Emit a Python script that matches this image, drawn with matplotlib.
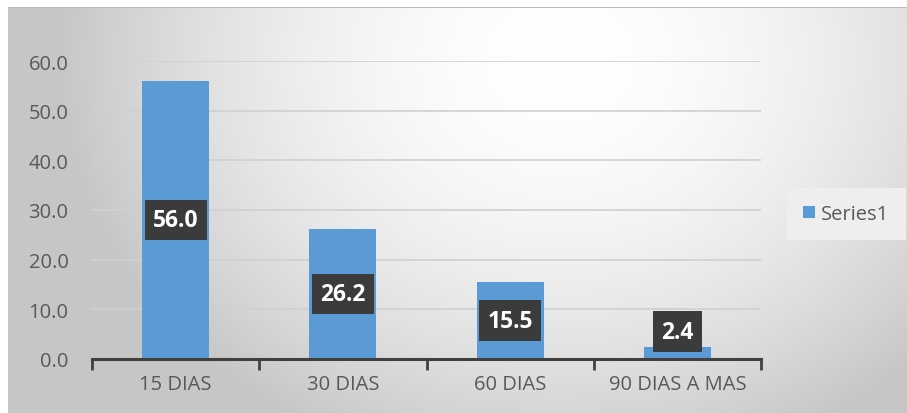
import numpy as np
import matplotlib.pyplot as plt

# datos
categorias = ['15 DIAS', '30 DIAS', '60 DIAS', '90 DIAS A MAS']
valores = [56.0, 26.2, 15.5, 2.4]
serie = 'Series1'
y_ticks = [0, 10, 20, 30, 40, 50, 60]

plt.rcParams['font.family'] = ['Open Sans', 'DejaVu Sans']

fig = plt.figure(figsize=(9.07, 4.14), dpi=100)

# fondo con degradado radial
bg = fig.add_axes([0, 0, 1, 1], zorder=-10)
W, H = 907, 414
xx, yy = np.meshgrid(np.arange(W), np.arange(H))
r = np.sqrt(((xx - 560) / 500.0) ** 2 + ((yy - 60) / 420.0) ** 2)
r = np.clip(r, 0, 1)
g = 1.0 - 0.22 * r ** 1.8
img = np.dstack([g, g, g])
img[:8, :, :] = 1.0
img[:, :8, :] = 1.0
img[8, 8:, :] = 0.74
bg.imshow(img, extent=[0, W, H, 0], aspect='auto', interpolation='bilinear')
bg.set_xlim(0, W)
bg.set_ylim(H, 0)
bg.axis('off')

ax = fig.add_axes([92 / W, 54 / H, (761 - 92) / W, 298 / H])
ax.patch.set_alpha(0)
x = np.arange(len(categorias))
bars = ax.bar(x, valores, width=0.4, color='#5b9bd5', zorder=3, label=serie)

ax.set_xlim(-0.5, len(categorias) - 0.5)
ax.set_ylim(0, 60)
ax.set_yticks(y_ticks)
ax.set_yticklabels([f'{v:.1f}' for v in y_ticks], fontsize=14.5, color='#595959')
ax.yaxis.grid(True, color='#d0d0d0', lw=1.2, zorder=0)
ax.tick_params(axis='y', length=0, pad=17)

ax.set_xticks(x)
ax.set_xticklabels(categorias, fontsize=14.5, color='#595959')
ax.set_xticks(np.arange(-0.5, len(categorias)), minor=True)
ax.tick_params(axis='x', which='major', length=0, pad=11)
ax.tick_params(axis='x', which='minor', length=8, width=2, color='#404040', direction='out')

for s in ['top', 'right', 'left']:
    ax.spines[s].set_visible(False)
ax.spines['bottom'].set_color('#404040')
ax.spines['bottom'].set_linewidth(2.2)
ax.spines['bottom'].set_zorder(4)

# etiquetas de datos
for xi, v in zip(x, valores):
    yl = max(v / 2, 5.5)
    ax.text(xi, yl, f'{v:.1f}', ha='center', va='center', fontsize=16.5,
            fontweight='bold', color='white', zorder=5,
            bbox=dict(boxstyle='square,pad=0.36', facecolor='#3b3b3b',
                      edgecolor='none'))

leg = fig.legend(handles=[bars], labels=[serie], loc='center left',
                 bbox_to_anchor=(793 / W, 1 - 215 / H), frameon=True,
                 fontsize=14.5, handlelength=0.6, handleheight=0.6,
                 handletextpad=0.3, borderpad=0.5, borderaxespad=0)
leg.get_frame().set_facecolor('#eeeeee')
leg.get_frame().set_edgecolor('none')
leg.get_frame().set_alpha(1)
leg.get_frame().set_boxstyle('square')
for t in leg.get_texts():
    t.set_color('#595959')

fig.savefig('out.png', dpi=100)
